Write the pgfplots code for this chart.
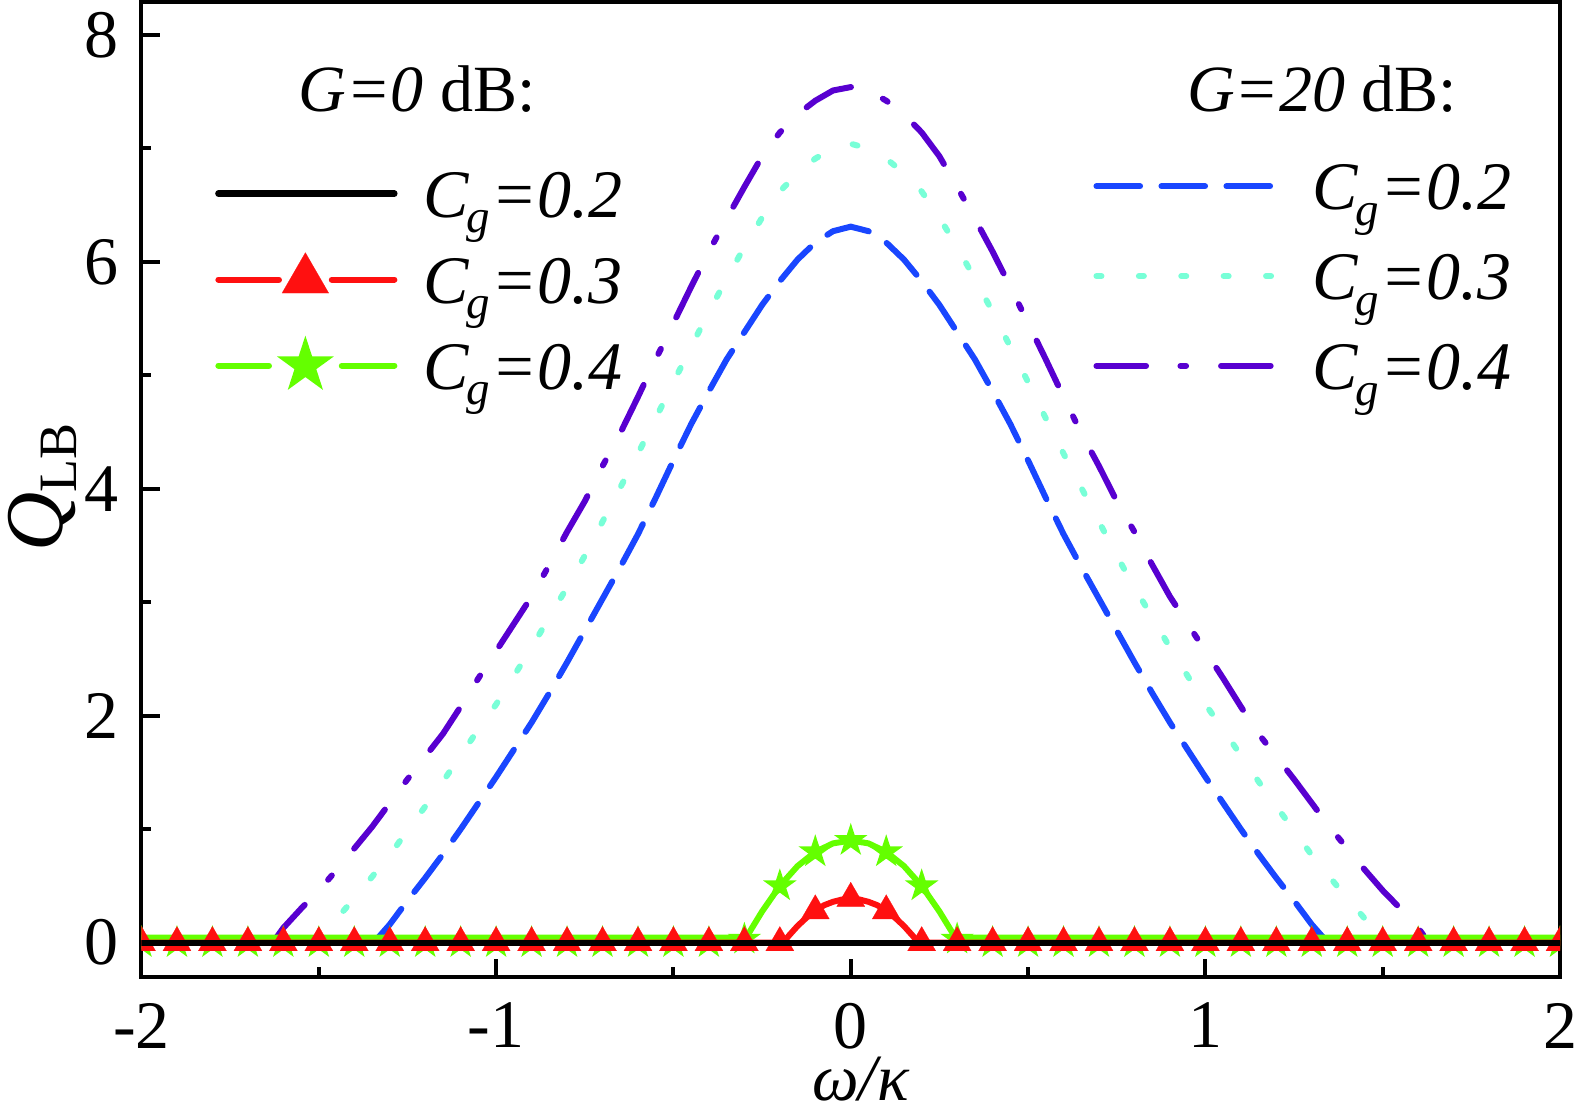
\documentclass[border=0pt]{standalone}
\usepackage{pgfplots}
\pgfplotsset{compat=1.18}
\usepackage{fontspec}
\setmainfont{Liberation Serif}
\usetikzlibrary{plotmarks}

\definecolor{blueC}{RGB}{25,70,255}
\definecolor{cyanC}{RGB}{120,255,215}
\definecolor{purpleC}{RGB}{88,0,208}
\definecolor{redC}{RGB}{255,16,16}
\definecolor{greenC}{RGB}{100,255,0}

\pgfdeclareplotmark{fstar}{%
  \pgfpathmoveto{\pgfqpointpolar{90}{\pgfplotmarksize}}%
  \pgfpathlineto{\pgfqpointpolar{234}{\pgfplotmarksize}}%
  \pgfpathlineto{\pgfqpointpolar{18}{\pgfplotmarksize}}%
  \pgfpathlineto{\pgfqpointpolar{162}{\pgfplotmarksize}}%
  \pgfpathlineto{\pgfqpointpolar{306}{\pgfplotmarksize}}%
  \pgfpathclose
  \pgfusepathqfill}

\newcommand\Cg[1]{\textit{C}\kern-0.04em\raisebox{-0.23em}{\fontsize{23.5}{23.5}\selectfont\textit{g}}\kern0.02em\textit{=#1}}

\pgfplotsset{
  legline/.style={legend image code/.code={%
      \path[draw=none,fill=none] (0pt,-2pt) rectangle (91pt,2pt);
      \draw[##1,overlay,fill=none] (1.5pt,0pt) -- (89.5pt,0pt);}},
  legtri/.style={legend image code/.code={%
      \path[draw=none,fill=none] (0pt,-2pt) rectangle (91pt,2pt);
      \draw[overlay,draw=redC,fill=none,solid,line width=3pt,line cap=round] (1.5pt,0pt) -- (31.8pt,0pt) (58.2pt,0pt) -- (89.5pt,0pt);
      \draw[overlay,draw=redC,fill=redC,solid,line width=0.1pt,mark=triangle*,mark size=13.5pt,mark options={fill=redC}] plot coordinates {(45pt,0pt)};}},
  legstar/.style={legend image code/.code={%
      \path[draw=none,fill=none] (0pt,-2pt) rectangle (91pt,2pt);
      \draw[overlay,draw=greenC,fill=none,solid,line width=3pt,line cap=round] (1.5pt,0pt) -- (26.8pt,0pt) (63.2pt,0pt) -- (89.5pt,0pt);
      \draw[overlay,draw=greenC,fill=greenC,solid,mark=fstar,mark size=15pt,mark options={fill=greenC}] plot coordinates {(45pt,0pt)};}},
  common/.style={at={(0pt,0pt)}, anchor=south west,
    scale only axis, width=709.25pt, height=487.35pt,
    xmin=-2, xmax=2, ymin=-0.3, ymax=8.29},
}

\begin{document}
\begin{tikzpicture}
\begin{axis}[common,
  clip marker paths=true,
  xtick={-2,-1,0,1,2}, xticklabels={-2,-1,0,1,2},
  minor xtick={-1.5,-0.5,0.5,1.5},
  ytick={0,2,4,6,8}, yticklabels={0,2,4,6,8},
  minor ytick={1,3,5,7},
  tick align=inside, tick pos=left,
  major tick length=9pt, minor tick length=4.7pt,
  axis line style={line width=2pt},
  tick style={black, line width=2pt},
  /pgf/number format/assume math mode=true,
  ticklabel style={font=\fontsize{34}{34}\selectfont},
  xticklabel style={inner sep=0pt, yshift=-13pt},
  yticklabel style={inner sep=0pt, xshift=-11.5pt},
  xlabel={\textit{ω/κ}},
  xlabel style={font=\fontsize{33}{33}\selectfont, at={(axis description cs:0.5072,-0.1275)}, anchor=base, inner sep=0pt},
  ylabel={\textit{Q}\raisebox{-0.17em}{\fontsize{27}{27}\selectfont LB}},
  ylabel style={font=\fontsize{41}{41}\selectfont, at={(axis description cs:-0.0560,0.502)}, anchor=base, inner sep=0pt},
  legend style={draw=none, fill=none, at={(axis description cs:0.0518,0.8279)}, anchor=north west,
    inner sep=0pt, row sep=19.5pt, column sep=13pt, font=\fontsize{34}{34}\selectfont,
    nodes={inner sep=0pt, text height=23.5pt, text depth=0pt}},
  legend cell align=left,
]
% G = 20 dB curves
\addplot[forget plot, blueC, line width=3pt, line cap=round, line join=round, dash pattern=on 21.8pt off 10.7pt] coordinates {
(-1.345,0) (-1.3,0.16) (-1.25,0.37) (-1.2,0.57) (-1.15,0.78) (-1.1,1.00) (-1.05,1.23) (-1.0,1.46) (-0.95,1.70) (-0.9,1.94)
(-0.85,2.20) (-0.8,2.47) (-0.75,2.75) (-0.7,3.03) (-0.65,3.31) (-0.6,3.60) (-0.55,3.92) (-0.5,4.25) (-0.45,4.57) (-0.4,4.86)
(-0.35,5.14) (-0.3,5.38) (-0.25,5.62) (-0.2,5.83) (-0.15,6.02) (-0.1,6.17) (-0.05,6.27) (0,6.31)
(0.05,6.27) (0.1,6.17) (0.15,6.02) (0.2,5.83) (0.25,5.62) (0.3,5.38) (0.35,5.14) (0.4,4.86) (0.45,4.57) (0.5,4.25)
(0.55,3.92) (0.6,3.60) (0.65,3.31) (0.7,3.03) (0.75,2.75) (0.8,2.47) (0.85,2.20) (0.9,1.94) (0.95,1.70) (1.0,1.46)
(1.05,1.23) (1.1,1.00) (1.15,0.78) (1.2,0.57) (1.25,0.37) (1.3,0.16) (1.345,0)};
\addplot[forget plot, cyanC, line width=3pt, line cap=round, line join=round, dash pattern=on 2.5pt off 18.7pt] coordinates {
(-1.51,0) (-1.45,0.21) (-1.4,0.39) (-1.35,0.58) (-1.3,0.77) (-1.25,0.99) (-1.2,1.20) (-1.15,1.42) (-1.1,1.65) (-1.05,1.88)
(-1.0,2.10) (-0.95,2.35) (-0.9,2.60) (-0.85,2.87) (-0.8,3.13) (-0.75,3.41) (-0.7,3.71) (-0.65,4.01) (-0.6,4.31) (-0.55,4.62)
(-0.5,4.94) (-0.45,5.25) (-0.4,5.56) (-0.35,5.85) (-0.3,6.13) (-0.25,6.39) (-0.2,6.62) (-0.15,6.78) (-0.1,6.91) (-0.05,7.00) (0,7.04)
(0.05,7.00) (0.1,6.91) (0.15,6.78) (0.2,6.62) (0.25,6.39) (0.3,6.13) (0.35,5.85) (0.4,5.56) (0.45,5.25) (0.5,4.94)
(0.55,4.62) (0.6,4.31) (0.65,4.01) (0.7,3.71) (0.75,3.41) (0.8,3.13) (0.85,2.87) (0.9,2.60) (0.95,2.35) (1.0,2.10)
(1.05,1.88) (1.1,1.65) (1.15,1.42) (1.2,1.20) (1.25,0.99) (1.3,0.77) (1.35,0.58) (1.4,0.39) (1.45,0.21) (1.51,0)};
\addplot[forget plot, purpleC, line width=3pt, line cap=round, line join=round, dash pattern=on 24.8pt off 17.2pt on 2.8pt off 17.5pt] coordinates {
(-1.63,0) (-1.6,0.13) (-1.55,0.30) (-1.5,0.46) (-1.45,0.64) (-1.4,0.83) (-1.35,1.02) (-1.3,1.23) (-1.25,1.44) (-1.2,1.64)
(-1.15,1.84) (-1.1,2.08) (-1.05,2.33) (-1.0,2.57) (-0.95,2.81) (-0.9,3.05) (-0.85,3.33) (-0.8,3.62) (-0.75,3.89) (-0.7,4.20)
(-0.65,4.49) (-0.6,4.81) (-0.55,5.14) (-0.5,5.46) (-0.45,5.78) (-0.4,6.09) (-0.35,6.38) (-0.3,6.66) (-0.25,6.93) (-0.2,7.14)
(-0.15,7.30) (-0.1,7.42) (-0.05,7.51) (0,7.54)
(0.05,7.51) (0.1,7.42) (0.15,7.30) (0.2,7.14) (0.25,6.93) (0.3,6.66) (0.35,6.38) (0.4,6.09) (0.45,5.78) (0.5,5.46)
(0.55,5.14) (0.6,4.81) (0.65,4.49) (0.7,4.20) (0.75,3.89) (0.8,3.62) (0.85,3.33) (0.9,3.05) (0.95,2.81) (1.0,2.57)
(1.05,2.33) (1.1,2.08) (1.15,1.84) (1.2,1.64) (1.25,1.44) (1.3,1.23) (1.35,1.02) (1.4,0.83) (1.45,0.64) (1.5,0.46)
(1.55,0.30) (1.6,0.13) (1.63,0)};
% G = 0 dB, Cg = 0.4
\addplot[forget plot, greenC, line width=3pt, line join=round] coordinates {
(-2,0.045) (-0.295,0.045) (-0.25,0.275) (-0.2,0.50) (-0.15,0.675) (-0.1,0.80) (-0.05,0.875) (0,0.90)
(0.05,0.875) (0.1,0.80) (0.15,0.675) (0.2,0.50) (0.25,0.275) (0.295,0.045) (2,0.045)};
\addplot[forget plot, only marks, greenC, mark=fstar, mark size=8.8pt, mark options={fill=greenC}] coordinates {
(-2,0) (-1.9,0) (-1.8,0) (-1.7,0) (-1.6,0) (-1.5,0) (-1.4,0) (-1.3,0) (-1.2,0) (-1.1,0) (-1.0,0)
(-0.9,0) (-0.8,0) (-0.7,0) (-0.6,0) (-0.5,0) (-0.4,0) (-0.3,0.03) (-0.2,0.50) (-0.1,0.80) (0,0.90)
(0.1,0.80) (0.2,0.50) (0.3,0.03) (0.4,0) (0.5,0) (0.6,0) (0.7,0) (0.8,0) (0.9,0) (1.0,0)
(1.1,0) (1.2,0) (1.3,0) (1.4,0) (1.5,0) (1.6,0) (1.7,0) (1.8,0) (1.9,0) (2,0)};
% G = 0 dB, Cg = 0.3
\addplot[forget plot, redC, line width=3pt, line join=round] coordinates {
(-2,0) (-0.19,0) (-0.175,0.06) (-0.15,0.147) (-0.125,0.22) (-0.1,0.28) (-0.075,0.33) (-0.05,0.36) (-0.025,0.38) (0,0.39)
(0.025,0.38) (0.05,0.36) (0.075,0.33) (0.1,0.28) (0.125,0.22) (0.15,0.147) (0.175,0.06) (0.19,0) (2,0)};
\addplot[forget plot, only marks, redC, mark=triangle*, mark size=8.1pt, mark options={fill=redC, line width=0.1pt}] coordinates {
(-2,0) (-1.9,0) (-1.8,0) (-1.7,0) (-1.6,0) (-1.5,0) (-1.4,0) (-1.3,0) (-1.2,0) (-1.1,0) (-1.0,0)
(-0.9,0) (-0.8,0) (-0.7,0) (-0.6,0) (-0.5,0) (-0.4,0) (-0.3,0) (-0.2,0) (-0.1,0.28) (0,0.39)
(0.1,0.28) (0.2,0) (0.3,0) (0.4,0) (0.5,0) (0.6,0) (0.7,0) (0.8,0) (0.9,0) (1.0,0)
(1.1,0) (1.2,0) (1.3,0) (1.4,0) (1.5,0) (1.6,0) (1.7,0) (1.8,0) (1.9,0) (2,0)};
% G = 0 dB, Cg = 0.2
\addplot[forget plot, black, line width=3pt] coordinates {(-2,0) (2,0)};

\addlegendimage{black, line width=3.2pt, line cap=round, legline}
\addlegendentry{\Cg{0.2}}
\addlegendimage{redC, legtri}
\addlegendentry{\Cg{0.3}}
\addlegendimage{greenC, legstar}
\addlegendentry{\Cg{0.4}}

\node[anchor=base west, font=\fontsize{33}{33}\selectfont, inner sep=0pt] at (axis description cs:0.1105,0.8875) {\textit{G=0} dB:};
\node[anchor=base west, font=\fontsize{33}{33}\selectfont, inner sep=0pt] at (axis description cs:0.7369,0.8875) {\textit{G=20} dB:};
\end{axis}

\begin{axis}[common, hide axis,
  legend style={draw=none, fill=none, at={(axis description cs:0.6708,0.8354)}, anchor=north west,
    inner sep=0pt, row sep=21.4pt, column sep=18.3pt, font=\fontsize{34}{34}\selectfont,
    nodes={inner sep=0pt, text height=23.5pt, text depth=0pt}},
  legend cell align=left,
]
\addlegendimage{blueC, line width=3pt, line cap=round, dash pattern=on 21.8pt off 10.7pt, legline}
\addlegendentry{\Cg{0.2}}
\addlegendimage{cyanC, line width=3pt, line cap=round, dash pattern=on 2.5pt off 18.7pt, legline}
\addlegendentry{\Cg{0.3}}
\addlegendimage{purpleC, line width=3pt, line cap=round, dash pattern=on 24.8pt off 17.2pt on 2.8pt off 17.5pt, legline}
\addlegendentry{\Cg{0.4}}
\end{axis}

\pgfresetboundingbox
\path[use as bounding box] (-70.75pt,-70.65pt) rectangle (717.75pt,488.35pt);
\end{tikzpicture}
\end{document}
